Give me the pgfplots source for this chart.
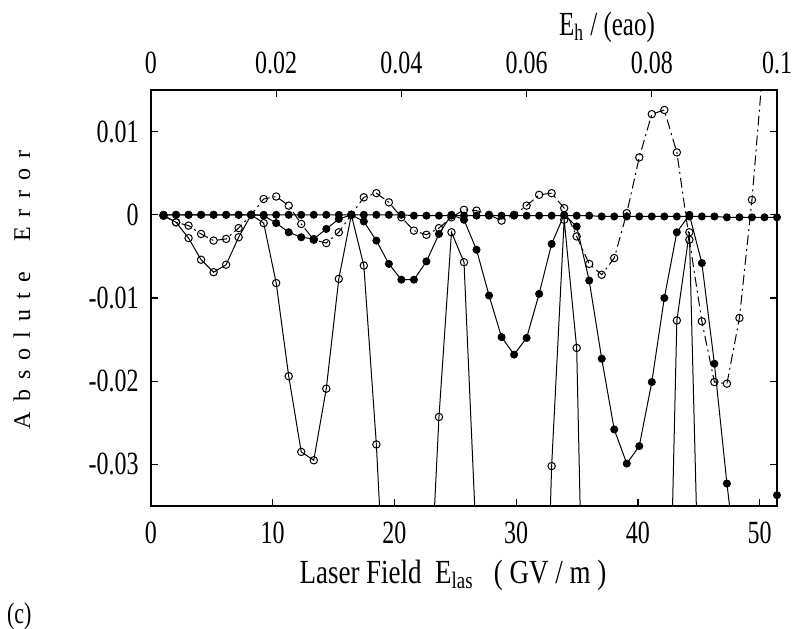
\documentclass[border=0pt]{standalone}
\usepackage{fontspec}
\setmainfont{Liberation Serif}
\usepackage{pgfplots}
\pgfplotsset{compat=1.18}
\usepackage{pgfplotstable}
\usepackage{graphicx}
\newcommand\vs[1]{\scalebox{1}[1.35]{#1}}
\newcommand\ls{\hspace{0.42em}}

% E in GV/m (step 0.002 au); A flat, B dash-dot open, C solid filled, D solid open
\pgfplotstableread{
E A B C D
1.028 0 -0.0001 0 -0.0001
2.057 0 -0.0009 0 -0.0009
3.085 0 -0.0013 0 -0.0028
4.114 0 -0.0023 0 -0.0054
5.142 0 -0.0031 0 -0.0069
6.171 0 -0.0029 0 -0.0060
7.199 0 -0.0016 0 -0.0027
8.228 0 0.0000 0 0.0000
9.256 0 0.0019 -0.0001 -0.0010
10.284 0 0.0022 -0.0010 -0.0082
11.313 0 0.0011 -0.0021 -0.0194
12.341 0 -0.0011 -0.0027 -0.0285
13.370 0 -0.0030 -0.0029 -0.0295
14.398 0 -0.0034 -0.0017 -0.0209
15.427 0 -0.0021 -0.0005 -0.0077
16.455 0 0.0000 0.0000 0.0000
17.483 0 0.0021 -0.0008 -0.0061
18.512 0 0.0026 -0.0031 -0.0276
19.540 0 0.0015 -0.0059 -0.0570
20.569 0 -0.0003 -0.0078 -0.0800
21.597 -0.0001 -0.0019 -0.0078 -0.0800
22.626 -0.0001 -0.0024 -0.0056 -0.0550
23.654 -0.0001 -0.0016 -0.0023 -0.0243
24.683 -0.0001 -0.0003 0.0000 -0.0021
25.711 -0.0001 0.0006 -0.0006 -0.0057
26.739 -0.0001 0.0005 -0.0042 -0.0400
27.768 -0.0001 0.0000 -0.0097 -0.0800
28.796 -0.0001 -0.0007 -0.0147 -0.0800
29.825 -0.0001 0.0000 -0.0168 -0.0800
30.853 -0.0001 0.0011 -0.0148 -0.0800
31.882 -0.0001 0.0024 -0.0095 -0.0800
32.910 -0.0001 0.0026 -0.0035 -0.0302
33.939 -0.0001 0.0008 0.0000 -0.0006
34.967 -0.0001 -0.0026 -0.0014 -0.0160
35.995 -0.0001 -0.0059 -0.0079 -0.0850
37.024 -0.0002 -0.0072 -0.0173 -0.0850
38.052 -0.0002 -0.0052 -0.0258 -0.0850
39.081 -0.0002 0.0002 -0.0299 -0.0850
40.109 -0.0002 0.0069 -0.0278 -0.0850
41.138 -0.0002 0.0121 -0.0201 -0.0850
42.166 -0.0002 0.0126 -0.0100 -0.0780
43.195 -0.0002 0.0075 -0.0021 -0.0127
44.223 -0.0002 -0.0030 0.0000 -0.0021
45.251 -0.0002 -0.0128 -0.0058 -0.0610
46.280 -0.0002 -0.0201 -0.0179 nan
47.308 -0.0003 -0.0203 -0.0323 nan
48.337 -0.0003 -0.0124 -0.0450 nan
49.365 -0.0003 0.0018 -0.0800 nan
50.394 -0.0003 0.0200 -0.1000 nan
51.420 -0.0003 nan -0.0337 nan
}\data

\begin{document}
\begin{tikzpicture}
\path[use as bounding box] (-75.5pt,-61pt) rectangle (321pt,253pt);
\begin{axis}[
    at={(0,0)}, anchor=south west,
    scale only axis, width=313pt, height=208pt,
    xmin=0, xmax=51.422, ymin=-0.035, ymax=0.015,
    xtick pos=bottom, ytick pos=both, tick align=inside,
    xtick={0,10,20,30,40,50},
    xticklabels={\vs{0},\vs{10},\vs{20},\vs{30},\vs{40},\vs{50}},
    ytick={-0.03,-0.02,-0.01,0,0.01},
    yticklabels={\vs{-0.03},\vs{-0.02},\vs{-0.01},\vs{0},\vs{0.01}},
    scaled y ticks=false,
    major tick length=3.5pt,
    tick style={black, line width=0.6pt},
    axis line style={line width=0.6pt},
    tick label style={font=\fontsize{12}{14}\selectfont, inner sep=0pt},
    xticklabel style={yshift=-8pt},
    yticklabel style={xshift=-6pt},
    unbounded coords=jump,
    every axis plot/.append style={black, line width=0.5pt},
]
\addplot[mark=*, mark size=1.75pt, mark options={fill=black, solid}] table[x=E, y=A] {\data};
\addplot[dash pattern=on 5pt off 2pt on 1pt off 2pt, mark=o, mark size=1.85pt, mark options={solid, fill=white}] table[x=E, y=B] {\data};
\addplot[mark=*, mark size=1.75pt, mark options={fill=black}] table[x=E, y=C] {\data};
\addplot[mark=o, mark size=1.85pt, mark options={fill=white}] table[x=E, y=D] {\data};
\end{axis}
\begin{axis}[
    at={(0,0)}, anchor=south west,
    scale only axis, width=313pt, height=208pt,
    xmin=0, xmax=0.1, ymin=0, ymax=1,
    axis x line*=top, axis y line=none,
    tick align=inside,
    xtick={0,0.02,0.04,0.06,0.08,0.1},
    xticklabels={\vs{0},\vs{0.02},\vs{0.04},\vs{0.06},\vs{0.08},\vs{0.1}},
    major tick length=3.5pt,
    tick style={black, line width=0.6pt},
    axis line style={line width=0.6pt},
    tick label style={font=\fontsize{12}{14}\selectfont, inner sep=0pt},
    xticklabel style={yshift=8pt},
]
\end{axis}
\node[font=\fontsize{13.5}{15}\selectfont] at (151pt,-34.5pt) {\scalebox{1}[1.25]{Laser Field\ \ E\textsubscript{las}\ \ \ ( GV / m )}};
\node[font=\fontsize{12.5}{14}\selectfont] at (228pt,239.5pt) {\vs{E\textsubscript{h} / (eao)}};
\node[font=\fontsize{12}{14}\selectfont, rotate=90] at (-64.5pt,108pt) {A\ls b\ls s\ls o\ls l\ls u\ls t\ls e\ls\ls\ls E\ls r\ls r\ls o\ls r};
\node[font=\fontsize{11}{13}\selectfont, anchor=west] at (-75.5pt,-55pt) {\vs{(c)}};
\end{tikzpicture}
\end{document}
